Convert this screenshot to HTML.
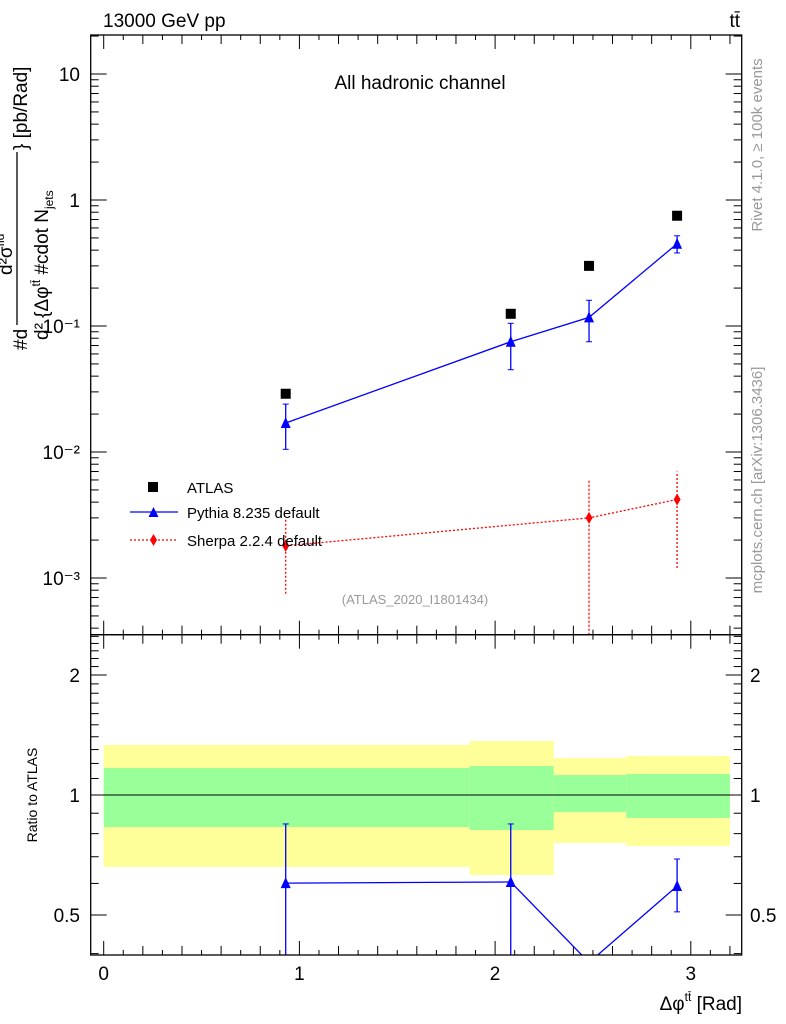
<!DOCTYPE html>
<html><head><meta charset="utf-8"><style>
html,body{margin:0;padding:0;background:#fff}
svg{display:block;font-family:"Liberation Sans",sans-serif}
</style></head><body>
<svg id="c" width="786" height="1024" viewBox="0 0 786 1024">
<g id="bands"></g>
<g id="ticks"></g>
<g id="marks"></g>
<rect x="90.7" y="35" width="651" height="599.7" fill="none" stroke="#000" stroke-width="1.3"/>
<rect x="90.7" y="634.7" width="651" height="320.3" fill="none" stroke="#000" stroke-width="1.3"/>
<text x="103" y="27" font-size="19">13000 GeV pp</text>
<text x="740" y="27" font-size="19" text-anchor="end">tt̄</text>
<text x="420" y="89" font-size="19" text-anchor="middle">All hadronic channel</text>
<text x="415" y="604" font-size="13" fill="#999" text-anchor="middle">(ATLAS_2020_I1801434)</text>
<text transform="translate(762,145) rotate(-90)" font-size="15" fill="#999" text-anchor="middle">Rivet 4.1.0, ≥ 100k events</text>
<text transform="translate(762,480) rotate(-90)" font-size="15" fill="#999" text-anchor="middle">mcplots.cern.ch [arXiv:1306.3436]</text>
<g font-size="19">
<text transform="translate(27,350) rotate(-90)">#d</text>
<line x1="17" y1="325" x2="17" y2="152" stroke="#000" stroke-width="1.3"/>
<text transform="translate(27,150) rotate(-90)">} [pb/Rad]</text>
<text transform="translate(12,275) rotate(-90)" font-size="19">d²σ<tspan font-size="12" dy="-8">fid</tspan></text>
<text transform="translate(48,340) rotate(-90)" font-size="19">d² {Δφ<tspan font-size="12" dy="-8">tt̄</tspan><tspan dy="8"> #cdot N</tspan><tspan font-size="12" dy="5">jets</tspan></text>
</g>
<text transform="translate(37,795) rotate(-90)" font-size="14" text-anchor="middle">Ratio to ATLAS</text>
<text x="742" y="1010" font-size="19" text-anchor="end">Δφ<tspan font-size="12" dy="-9">tt̄</tspan><tspan dy="9"> [Rad]</tspan></text>
<g font-size="15">
<rect x="148" y="482" width="10" height="10" fill="#000"/>
<text x="187" y="493">ATLAS</text>
<line x1="130" y1="512" x2="178" y2="512" stroke="#00f" stroke-width="1.3"/>
<path d="M148.5,517 L153.5,507 L158.5,517Z" fill="#00f"/>
<text x="187" y="518">Pythia 8.235 default</text>
<line x1="130" y1="540" x2="178" y2="540" stroke="#f00" stroke-width="1.3" stroke-dasharray="2,2"/>
<path d="M153.5,534 L157,540 L153.5,546 L150,540Z" fill="#f00"/>
<text x="187" y="546">Sherpa 2.2.4 default</text>
</g>
</svg>
<script>
const xs=[0.93,2.08,2.48,2.93];
const atlas=[0.029,0.125,0.30,0.75];
const pythia=[0.017,0.075,0.117,0.45];
const pythiaLo=[0.0105,0.045,0.075,0.38];
const pythiaHi=[0.024,0.105,0.16,0.52];
const sherpaX=[0.93,2.48,2.93];
const sherpa=[0.0018,0.003,0.0042];
const sherpaLo=[0.00075,0.0001,0.0012];
const sherpaHi=[0.0029,0.006,0.007];
const binEdges=[0,1.87,2.3,2.67,3.2];
const yelHi=[1.335,1.366,1.238,1.253];
const yelLo=[0.66,0.63,0.758,0.745];
const grnHi=[1.169,1.182,1.122,1.129];
const grnLo=[0.831,0.817,0.906,0.876];
const ratio=[0.601,0.605,0.38,0.591];
const ratioLo=[0.1,0.1,0.38,0.509];
const ratioHi=[0.846,0.846,0.38,0.691];
const mainTicks=[10,1,0.1,0.01,0.001];
const mainTickLabels=["10","1","10⁻¹","10⁻²","10⁻³"];
const ratioTicks=[2,1,0.5];
const ratioTickLabels=["2","1","0.5"];
const xTicks=[0,1,2,3];

const NS="http://www.w3.org/2000/svg";
const X=v=>103.7+v*195.7;
const YM=v=>74-(Math.log10(v)-1)*126;
const YR=v=>795-Math.log10(v)*398.6;
function el(t,a,p){const e=document.createElementNS(NS,t);for(const k in a)e.setAttribute(k,a[k]);p.appendChild(e);return e;}
const B=document.getElementById('bands'),T=document.getElementById('ticks'),M=document.getElementById('marks');
const L=90.7,R=741.7,TOP=35,MID=634.7,BOT=955;
const cl=v=>Math.max(TOP,Math.min(MID,v));
const cr=v=>Math.max(MID,Math.min(BOT,v));
for(let i=0;i<yelHi.length;i++){
 const y=el('rect',{x:X(binEdges[i]),y:YR(yelHi[i]),width:X(binEdges[i+1])-X(binEdges[i]),height:YR(yelLo[i])-YR(yelHi[i]),fill:'#ffff99'},B);
 
 
 const g=el('rect',{x:X(binEdges[i]),y:YR(grnHi[i]),width:X(binEdges[i+1])-X(binEdges[i]),height:YR(grnLo[i])-YR(grnHi[i]),fill:'#99ff99'},B);
 
 
}
el('line',{x1:L,x2:R,y1:YR(1),y2:YR(1),stroke:'#000','stroke-width':1},B);
for(let k=0;k<=32;k++){const v=k/10;const x=X(v);const h=k%10==0?14:(k%2==0?9:5);
 el('line',{x1:x,x2:x,y1:MID,y2:MID-h,stroke:'#000'},T);
 el('line',{x1:x,x2:x,y1:MID,y2:MID+h,stroke:'#000'},T);
 el('line',{x1:x,x2:x,y1:TOP,y2:TOP+h,stroke:'#000'},T);
 el('line',{x1:x,x2:x,y1:BOT,y2:BOT-h,stroke:'#000'},T);}
xTicks.forEach(v=>{const t=el('text',{x:X(v),y:980,'font-size':19,'text-anchor':'middle'},T);t.textContent=v;
 
 });
for(let d=-4;d<=1;d++)for(let m=1;m<=9;m++){const v=m*Math.pow(10,d);const y=YM(v);if(y<TOP||y>MID)continue;const h=m==1?16:8;
 el('line',{x1:L,x2:L+h,y1:y,y2:y,stroke:'#000'},T);el('line',{x1:R,x2:R-h,y1:y,y2:y,stroke:'#000'},T);}
mainTicks.forEach((v,i)=>{const t=el('text',{x:80,y:YM(v)+7,'font-size':19,'text-anchor':'end'},T);t.textContent=mainTickLabels[i];
 
 });
for(let k=4;k<=25;k++){const v=k/10;const y=YR(v);if(y<MID||y>BOT)continue;const h=(k==5||k==10||k==20)?16:8;
 el('line',{x1:L,x2:L+h,y1:y,y2:y,stroke:'#000'},T);el('line',{x1:R,x2:R-h,y1:y,y2:y,stroke:'#000'},T);}
ratioTicks.forEach((v,i)=>{[[80,'end'],[750,'start']].forEach(p=>{const t=el('text',{x:p[0],y:YR(v)+7,'font-size':19,'text-anchor':p[1]},T);t.textContent=ratioTickLabels[i];
 
 });});
xs.forEach((x,i)=>{const r=el('rect',{x:X(x)-5,y:YM(atlas[i])-5,width:10,height:10,fill:'#000'},M);
 
 });
el('polyline',{points:xs.map((x,i)=>X(x)+','+YM(pythia[i])).join(' '),fill:'none',stroke:'#00f','stroke-width':1.3},M);
xs.forEach((x,i)=>{const cx=X(x);
 el('line',{x1:cx,x2:cx,y1:cl(YM(pythiaLo[i])),y2:cl(YM(pythiaHi[i])),stroke:'#00f','stroke-width':1.3},M);
 [pythiaLo[i],pythiaHi[i]].forEach(v=>el('line',{x1:cx-3,x2:cx+3,y1:YM(v),y2:YM(v),stroke:'#00f'},M));
 const p=el('path',{d:`M${cx-5},${YM(pythia[i])+5}L${cx},${YM(pythia[i])-6}L${cx+5},${YM(pythia[i])+5}Z`,fill:'#00f'},M);
 
 });
el('polyline',{points:sherpaX.map((x,i)=>X(x)+','+YM(sherpa[i])).join(' '),fill:'none',stroke:'#f00','stroke-width':1.3,'stroke-dasharray':'2,2'},M);
sherpaX.forEach((x,i)=>{const cx=X(x);
 el('line',{x1:cx,x2:cx,y1:cl(YM(sherpaLo[i])),y2:cl(YM(sherpaHi[i])),stroke:'#f00','stroke-width':1.3,'stroke-dasharray':'2,2'},M);
 const y=YM(sherpa[i]);
 const p=el('path',{d:`M${cx},${y-6}L${cx+3.5},${y}L${cx},${y+6}L${cx-3.5},${y}Z`,fill:'#f00'},M);
 
 });
const cp=el('clipPath',{id:'rc'},M);el('rect',{x:L,y:MID,width:R-L,height:BOT-MID},cp);
const rg=el('g',{'clip-path':'url(#rc)'},M);
el('polyline',{points:xs.map((x,i)=>X(x)+','+YR(ratio[i])).join(' '),fill:'none',stroke:'#00f','stroke-width':1.3},rg);
xs.forEach((x,i)=>{const cx=X(x);
 el('line',{x1:cx,x2:cx,y1:cr(YR(ratioLo[i])),y2:cr(YR(ratioHi[i])),stroke:'#00f','stroke-width':1.3},rg);
 [ratioLo[i],ratioHi[i]].forEach(v=>{if(v>0.4&&v!==ratio[i])el('line',{x1:cx-3,x2:cx+3,y1:YR(v),y2:YR(v),stroke:'#00f'},rg);});
 if(ratio[i]>0.4){const y=YR(ratio[i]);
 const p=el('path',{d:`M${cx-5},${y+5}L${cx},${y-6}L${cx+5},${y+5}Z`,fill:'#00f'},rg);
 
 }});
</script>
</body></html>
